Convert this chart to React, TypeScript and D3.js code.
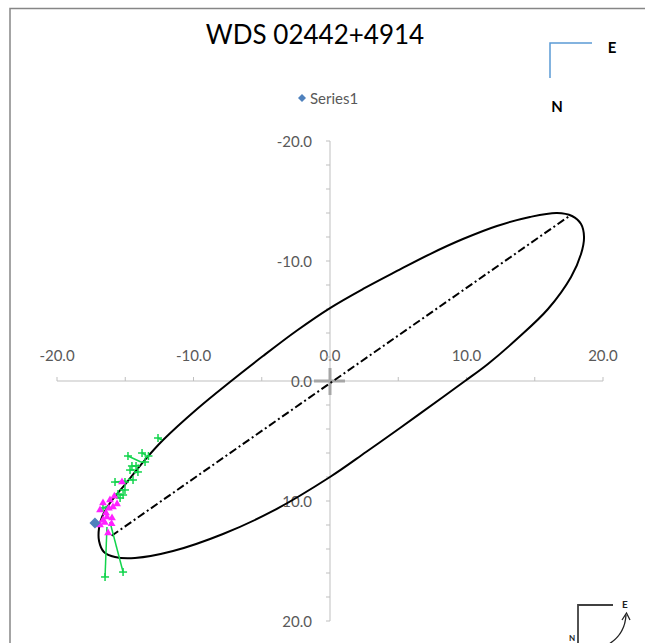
import * as d3 from "d3";

// ---- data (arcsec) ----
const orbitX = [-16.92, -16.92, -16.56, -15.75, -14.29, -11.5, -7.84, -4.18, 0.0, 2.64, 5.13, 8.28, 9.89, 11.57, 13.77, 15.97, 17.66, 18.39, 18.61, 18.39, 17.73, 16.63, 14.65, 12.23, 9.74, 7.33, 4.91, 2.42, 0.0, -2.42, -4.91, -7.33, -9.74, -12.23, -13.63, -14.87, -16.12, -16.7];
const orbitY = [12.25, 13.33, 14.25, 14.67, 14.75, 14.17, 12.75, 10.83, 8.0, 5.92, 3.92, 1.33, 0.0, -1.42, -3.58, -6.0, -8.67, -10.58, -12.0, -13.08, -13.75, -14.0, -13.67, -12.92, -11.83, -10.58, -9.17, -7.67, -6.08, -4.21, -2.08, 0.08, 2.33, 4.92, 6.67, 8.42, 10.17, 11.33];

// line of apsides (periastron -> apastron)
const apsidesX = [-16.0, 17.6];
const apsidesY = [12.9, -13.8];

// green observations and their predicted positions
const obsX = [-12.6, -14.8, -13.77, -14.65, -14.07, -15.75, -15.02, -14.43, -15.02, -15.38, -16.63, -14.21, -13.55, -15.53, -14.51, -15.16, -13.3, -16.48, -15.16];
const obsY = [4.75, 6.25, 6.0, 7.42, 7.58, 8.42, 8.42, 8.25, 9.08, 9.75, 10.58, 7.08, 6.75, 9.42, 7.08, 9.5, 6.25, 16.33, 15.92];
const predX = [-12.31, -13.85, -13.48, -14.29, -14.36, -14.95, -14.87, -14.8, -15.38, -15.75, -16.26, -13.99, -13.77, -15.6, -14.2, -15.45, -13.55, -16.34, -16.12];
const predY = [4.92, 6.75, 6.17, 7.42, 7.67, 8.33, 8.33, 8.17, 9.08, 9.67, 10.42, 7.0, 6.75, 9.33, 7.1, 9.45, 6.4, 12.17, 11.75];

// magenta observations
const magX = [-15.24, -16.63, -16.12, -15.9, -16.85, -16.34, -15.97, -16.63, -16.85, -16.26, -15.6, -16.41, -16.2, -16.5, -15.8, -16.0];
const magY = [8.42, 10.17, 9.92, 10.5, 10.75, 11.33, 11.42, 11.58, 12.0, 12.67, 10.25, 11.0, 10.6, 11.8, 9.6, 11.9];

// Series1
const s1X = [-17.22];
const s1Y = [11.83];

const xTicks = [-20, -15, -10, -5, 0, 5, 10, 15, 20];
const xLabels = [-20, -10, 0, 10, 20];
const yTicks = d3.range(-20, 21, 2);
const yLabels = [-20, -10, 0, 10, 20];

const W = 645;
const H = 643;
const FONT = "Lato, 'Open Sans', sans-serif";
const AXIS = "#bfbfbf";
const LABEL = "#595959";
const GREEN = "#12d44c";
const MAGENTA = "#ff22ff";

export default function App() {
  const x = d3.scaleLinear().domain([-20, 20]).range([57, 603]);
  const y = d3.scaleLinear().domain([-20, 20]).range([141, 621]);

  const orbitPts: [number, number][] = orbitX.map((v, i) => [x(v), y(orbitY[i])]);
  const orbitPath = d3.line().curve(d3.curveCatmullRomClosed.alpha(0.5))(orbitPts) || "";
  const tri = d3.symbol().type(d3.symbolTriangle).size(26)() || "";
  const diamond = "M0,-5.5L5.5,0L0,5.5L-5.5,0Z";
  const legendDiamond = "M0,-4L4,0L0,4L-4,0Z";

  return (
    <svg width={W} height={H} style={{ position: "fixed", left: 0, top: 0, background: "#fff" }} fontFamily={FONT}>
      <rect x={0} y={0} width={W} height={H} fill="#fff" />
      {/* chart frame */}
      <rect x={10} y={8.5} width={700} height={700} fill="none" stroke="#868686" strokeWidth={1.5} />

      <text x={315} y={44} textAnchor="middle" fontSize={26} fill="#000">WDS 02442+4914</text>

      {/* legend */}
      <path d={legendDiamond} transform={`translate(302,98)`} fill="#4f81bd" />
      <text x={310} y={103.5} fontSize={15} fill={LABEL}>Series1</text>

      {/* compass top right */}
      <path d="M592,43H550V78" fill="none" stroke="#5b9bd5" strokeWidth={1.5} />
      <text x={612} y={53} textAnchor="middle" fontSize={15} fontWeight="bold" fill="#000">E</text>
      <text x={557} y={112} textAnchor="middle" fontSize={15} fontWeight="bold" fill="#000">N</text>

      {/* x axis */}
      <line x1={x(-20)} x2={x(20)} y1={y(0)} y2={y(0)} stroke={AXIS} strokeWidth={1} />
      {xTicks.map((t) => (
        <line key={"xt" + t} x1={x(t)} x2={x(t)} y1={y(0)} y2={y(0) - 4} stroke={AXIS} />
      ))}
      {xLabels.map((t) => (
        <text key={"xl" + t} x={x(t)} y={y(0) - 20} textAnchor="middle" fontSize={15} fill={LABEL}>
          {t.toFixed(1)}
        </text>
      ))}

      {/* y axis */}
      <line x1={x(0)} x2={x(0)} y1={y(-20)} y2={y(20)} stroke={AXIS} strokeWidth={1} />
      {yTicks.map((t) => (
        <line key={"yt" + t} x1={x(0) - 4} x2={x(0)} y1={y(t)} y2={y(t)} stroke={AXIS} />
      ))}
      {yLabels.map((t) => (
        <text key={"yl" + t} x={x(0) - 18} y={y(t) + 5.5} textAnchor="end" fontSize={15} fill={LABEL}>
          {t.toFixed(1)}
        </text>
      ))}

      {/* primary star */}
      <g stroke="#a6a6a6" strokeWidth={3}>
        <line x1={x(0) - 16} x2={x(0) + 15} y1={y(0)} y2={y(0)} />
        <line x1={x(0)} x2={x(0)} y1={y(0) - 13} y2={y(0) + 14} />
      </g>

      {/* orbit */}
      <path d={orbitPath} fill="none" stroke="#000" strokeWidth={2} />
      <line x1={x(apsidesX[0])} y1={y(apsidesY[0])} x2={x(apsidesX[1])} y2={y(apsidesY[1])}
        stroke="#000" strokeWidth={2} strokeDasharray="8 3 2 3" />

      {/* green O-C lines and observations */}
      {obsX.map((v, i) => (
        <line key={"oc" + i} x1={x(v)} y1={y(obsY[i])} x2={x(predX[i])} y2={y(predY[i])} stroke={GREEN} strokeWidth={1.5} />
      ))}
      {obsX.map((v, i) => (
        <g key={"ob" + i} stroke={GREEN} strokeWidth={1.5}>
          <line x1={x(v) - 4} x2={x(v) + 4} y1={y(obsY[i])} y2={y(obsY[i])} />
          <line x1={x(v)} x2={x(v)} y1={y(obsY[i]) - 4} y2={y(obsY[i]) + 4} />
        </g>
      ))}

      {/* magenta observations */}
      {magX.map((v, i) => (
        <path key={"mg" + i} d={tri} transform={`translate(${x(v)},${y(magY[i])})`} fill={MAGENTA} />
      ))}

      {/* Series1 */}
      {s1X.map((v, i) => (
        <path key={"s1" + i} d={diamond} transform={`translate(${x(v)},${y(s1Y[i])})`} fill="#4f81bd" />
      ))}

      {/* compass bottom right */}
      <path d="M613,605H578V648" fill="none" stroke="#404040" strokeWidth={1.8} />
      <text x={625} y={608} textAnchor="middle" fontSize={10} fontWeight="bold" fill="#222">E</text>
      <text x={572} y={641} textAnchor="middle" fontSize={8} fontWeight="bold" fill="#222">N</text>
      <path d="M609,644Q625,634 626,615" fill="none" stroke="#222" strokeWidth={1.3} />
      <path d="M622,620L626.5,613L630,620" fill="none" stroke="#222" strokeWidth={1.3} />
    </svg>
  );
}
